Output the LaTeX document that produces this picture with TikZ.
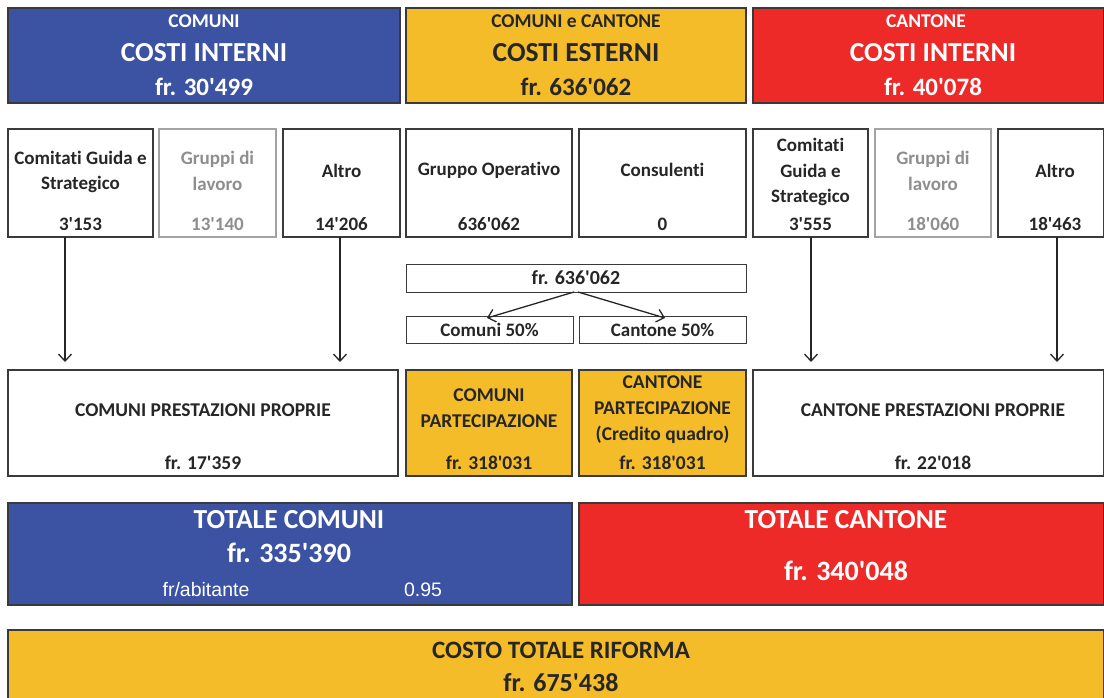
\documentclass[tikz,border=0pt]{standalone}
\usepackage{fontspec}
\setmainfont{Carlito}[Ligatures={NoCommon}]
\newfontfamily\arialf{Liberation Sans}
\usetikzlibrary{arrows.meta}
\definecolor{cblue}{HTML}{3C53A3}
\definecolor{cred}{HTML}{EE2A29}
\definecolor{cyel}{HTML}{F5BC2A}
\definecolor{cdark}{HTML}{3A3A3A}
\definecolor{cgray}{HTML}{A3A3A3}
\definecolor{ctxt}{HTML}{262626}
\definecolor{cgtxt}{HTML}{8E8E8E}
\newcommand\aps{\textquotesingle}
\newcommand\nl{\kern0pt}
\tikzset{
  bx/.style={draw=cdark, line width=1.6pt, inner sep=0pt, outer sep=0pt, anchor=north west},
  gbx/.style={draw=cgray, line width=1.6pt, inner sep=0pt, outer sep=0pt, anchor=north west},
  tbx/.style={draw=cdark, line width=0.8pt, inner sep=0pt, outer sep=0pt, anchor=north west},
  hs/.style={font=\fontsize{19.5}{22}\selectfont\bfseries, inner sep=0pt},
  hl/.style={font=\fontsize{27.5}{30}\selectfont\bfseries, inner sep=0pt},
  ha/.style={font=\fontsize{25}{28}\selectfont\bfseries, inner sep=0pt},
  ts/.style={font=\fontsize{19}{25.5}\selectfont\bfseries, text=ctxt, inner sep=0pt, align=center},
  tg/.style={font=\fontsize{19}{26}\selectfont\bfseries, text=cgtxt, inner sep=0pt, align=center},
  tr/.style={font=\fontsize{19.5}{26}\selectfont\bfseries, text=ctxt, inner sep=0pt, align=center},
  tp/.style={font=\fontsize{19}{22}\selectfont\bfseries, text=ctxt, inner sep=0pt},
  arr/.style={draw=ctxt, line width=1.3pt, -{Straight Barb[length=7pt,width=13pt,line width=1.3pt]}},
}
\begin{document}
\begin{tikzpicture}[x=1pt,y=-1pt]
\useasboundingbox[fill=white] (0,0) rectangle (1104,697);
% row 1
\node[bx, fill=cblue, minimum width=392, minimum height=95] (b1) at (8,8) {};
\node[bx, fill=cyel, minimum width=340, minimum height=95] (b2) at (406,8) {};
\node[bx, fill=cred, minimum width=351, minimum height=95] (b3) at (753,8) {};
\node[hs, text=white] (b1a) at (204,21) {COMUNI};
\node[hl, text=white] (b1b) at (204,53) {COSTI INTERNI};
\node[ha, text=white] (b1c) at (204,87) {fr. 30\aps499};
\node[hs, text=ctxt] (b2a) at (576,21) {COMUNI e CANTONE};
\node[hl, text=ctxt] (b2b) at (576,53) {COSTI ESTERNI};
\node[ha, text=ctxt] (b2c) at (576,87) {fr. 636\aps062};
\node[hs, text=white] (b3a) at (926,21) {CANTONE};
\node[hl, text=white] (b3b) at (933,53) {COSTI INTERNI};
\node[ha, text=white] (b3c) at (933,87) {fr. 40\aps078};
% row 2
\node[bx, minimum width=145, minimum height=108] (c1) at (8,129) {};
\node[gbx, minimum width=117, minimum height=108] (c2) at (159,129) {};
\node[bx, minimum width=117, minimum height=108] (c3) at (283,129) {};
\node[bx, minimum width=166, minimum height=108] (c4) at (406,129) {};
\node[bx, minimum width=167, minimum height=108] (c5) at (579,129) {};
\node[bx, minimum width=115, minimum height=108] (c6) at (753,129) {};
\node[gbx, minimum width=116, minimum height=108] (c7) at (875,129) {};
\node[bx, minimum width=106, minimum height=108] (c8) at (998,129) {};
\node[ts] (c1t) at (80.5,172) {Comit\nl at\nl i Guida e\\Strategico};
\node[ts] (c1n) at (80.5,224) {3\aps153};
\node[tg] (c2t) at (217.5,171) {Gruppi di\\lavoro};
\node[tg] (c2n) at (217.5,224) {13\aps140};
\node[ts] (c3t) at (341.5,171) {Altro};
\node[ts] (c3n) at (341.5,224) {14\aps206};
\node[ts] (c4t) at (489,170) {Gruppo Operat\nl ivo};
\node[ts] (c4n) at (489,224) {636\aps062};
\node[ts] (c5t) at (662.5,170) {Consulenti};
\node[ts] (c5n) at (662.5,224) {0};
\node[ts] (c6t) at (810.5,172) {Comit\nl at\nl i\\Guida e\\Strategico};
\node[ts] (c6n) at (810.5,224) {3\aps555};
\node[tg] (c7t) at (933,171) {Gruppi di\\lavoro};
\node[tg] (c7n) at (933,224) {18\aps060};
\node[ts] (c8t) at (1055,171) {Altro};
\node[ts] (c8n) at (1055,224) {18\aps463};
% split
\node[tbx, minimum width=340, minimum height=28] (s0) at (406,264) {};
\node[tp, font=\fontsize{20}{22}\selectfont\bfseries] (s0t) at (576,278) {fr. 636\aps062};
\node[tbx, minimum width=167, minimum height=27] (s1) at (406,316) {};
\node[tbx, minimum width=167, minimum height=27] (s2) at (579,316) {};
\node[tp] (s1t) at (489.5,330) {Comuni 50\%};
\node[tp] (s2t) at (662.5,330) {Cantone 50\%};
\coordinate (sa) at (487,318);
\coordinate (sb) at (665,318);
\draw[arr, line width=1.3pt] ([xshift=-2pt]s0.south) -- (sa);
\draw[arr, line width=1.3pt] ([xshift=2pt]s0.south) -- (sb);
% row 3
\node[bx, minimum width=390, minimum height=106] (d1) at (8,370) {};
\node[bx, fill=cyel, minimum width=166, minimum height=106] (d2) at (406,370) {};
\node[bx, fill=cyel, minimum width=167, minimum height=106] (d3) at (579,370) {};
\node[bx, minimum width=351, minimum height=106] (d4) at (753,370) {};
\node[tr] (d1t) at (203,410) {COMUNI PRESTAZIONI PROPRIE};
\node[tr] (d1n) at (203,463) {fr. 17\aps359};
\node[tr] (d2t) at (489,408.5) {COMUNI\\PARTECIPAZIONE};
\node[tr] (d2n) at (489,463) {fr. 318\aps031};
\node[tr] (d3t) at (662.5,410) {CANTONE\\PARTECIPAZIONE\\(Credito quadro)};
\node[tr] (d3n) at (662.5,463) {fr. 318\aps031};
\node[tr] (d4t) at (933,410) {CANTONE PRESTAZIONI PROPRIE};
\node[tr] (d4n) at (933,463) {fr. 22\aps018};
% arrows
\coordinate (a1) at (65,362);
\coordinate (a2) at (340,362);
\coordinate (a3) at (811,362);
\coordinate (a4) at (1057,362);
\draw[arr] (c1.south -| a1) -- (a1);
\draw[arr] (c3.south -| a2) -- (a2);
\draw[arr] (c6.south -| a3) -- (a3);
\draw[arr] (c8.south -| a4) -- (a4);
% row 4
\node[bx, fill=cblue, minimum width=564, minimum height=102] (e1) at (8,503) {};
\node[bx, fill=cred, minimum width=525, minimum height=102] (e2) at (579,503) {};
\node[hl, text=white] (e1a) at (289,520) {TOTALE COMUNI};
\node[hl, font=\fontsize{28}{30}\selectfont\bfseries, text=white] (e1b) at (289,553) {fr. 335\aps390};
\node[font=\arialf\fontsize{19.5}{22}\selectfont, text=white, inner sep=0pt] (e1c) at (206,590) {fr/abitante};
\node[font=\arialf\fontsize{19.5}{22}\selectfont, text=white, inner sep=0pt] (e1d) at (423,590) {0.95};
\node[hl, text=white] (e2a) at (846,520) {TOTALE CANTONE};
\node[hl, font=\fontsize{28}{30}\selectfont\bfseries, text=white] (e2b) at (846,571) {fr. 340\aps048};
% row 5
\node[bx, fill=cyel, minimum width=1096, minimum height=80] (f1) at (8,630) {};
\node[ha, text=ctxt] (f1a) at (561,650) {COSTO TOTALE RIFORMA};
\node[ha, font=\fontsize{26}{28}\selectfont\bfseries, text=ctxt] (f1b) at (561,683) {fr. 675\aps438};
\end{tikzpicture}
\end{document}
